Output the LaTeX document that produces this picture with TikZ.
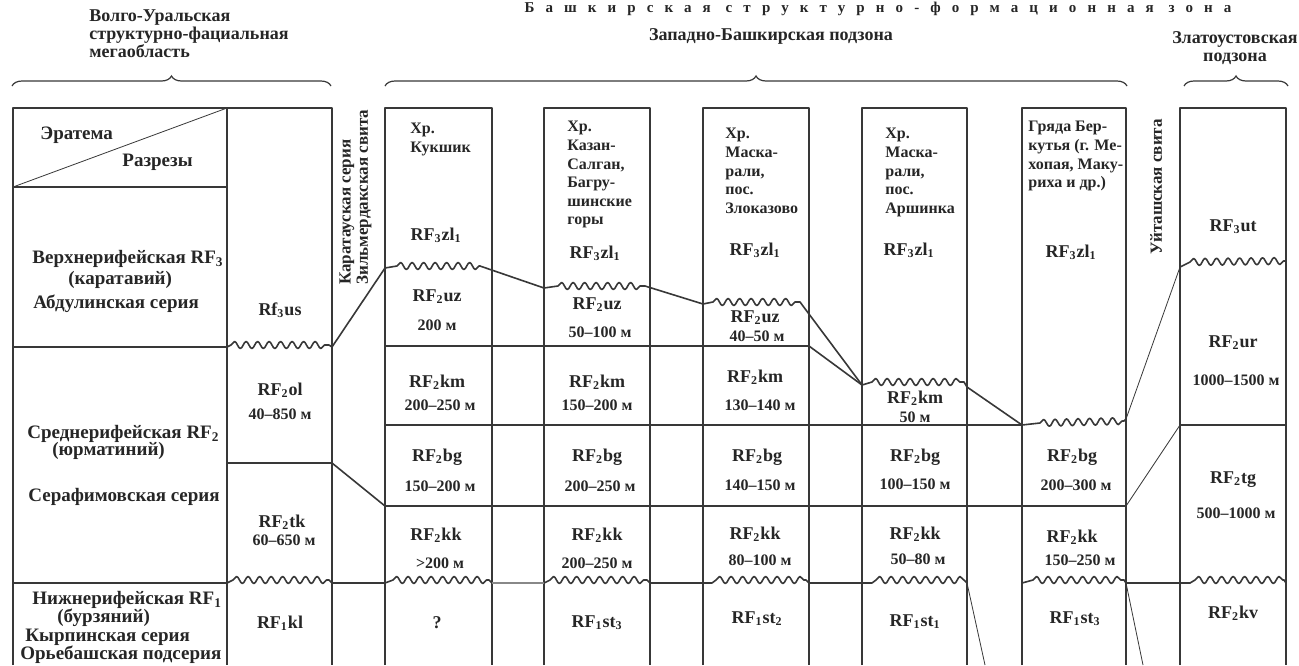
\documentclass[tikz,border=0pt]{standalone}
\usepackage{fontspec}
\setmainfont{Liberation Serif}
\newfontfamily\ttlfont[LetterSpace=74]{Liberation Serif}
\usetikzlibrary{decorations.pathmorphing,decorations.pathreplacing}
\definecolor{lc}{gray}{0.22}
\definecolor{tc}{gray}{0.15}
\newcommand\lsb[1]{\textsubscript{#1}}
\begin{document}
\begin{tikzpicture}[x=0.5pt,y=-0.5pt,
 bline/.style={draw=lc,line width=0.8pt,line join=round},
 tline/.style={draw=lc,line width=0.4pt},
 gline/.style={draw=lc!60,line width=0.6pt},
 wv/.style={decoration={snake,segment length=5.75pt,amplitude=1.75pt}},
 brc/.style={draw=lc,line width=0.6pt,decorate,decoration={brace,amplitude=5pt}},
 cellt/.style={font=\fontsize{9}{10}\selectfont\bfseries,text=tc,inner sep=0pt},
 thk/.style={font=\fontsize{8}{9}\selectfont\bfseries,text=tc,inner sep=0pt},
 loct/.style={font=\fontsize{8}{9.3}\selectfont\bfseries,text=tc,align=left,anchor=north west,inner sep=0pt},
 labt/.style={font=\fontsize{9.5}{11}\selectfont\bfseries,text=tc,anchor=west,inner sep=0pt},
 hdt/.style={font=\fontsize{9}{9}\selectfont\bfseries,text=tc,inner sep=0pt},
 vtxt/.style={font=\fontsize{8.5}{9}\selectfont\bfseries,text=tc,rotate=90,anchor=west,inner sep=0pt},
 ttl/.style={font=\ttlfont\fontsize{7.5}{8}\selectfont\bfseries,text=tc,inner sep=0pt}
]
\useasboundingbox[fill=white] (0,0) rectangle (1299,665);

% ---------- headers ----------
\node[ttl] (title) at (878,9) {Башкирская структурно-формационная зона};
\node[hdt,align=left,anchor=north west] (hVU) at (89,9) {Волго-Уральская\\структурно-фациальная\\мегаобласть};
\node[hdt] (hZB) at (771,36) {Западно-Башкирская подзона};
\node[hdt,align=center] (hZl) at (1235,48) {Златоустовская\\подзона};
\draw[brc] (12,86) -- (331,86);
\draw[brc] (385,86) -- (1127,86);
\draw[brc] (1184,86) -- (1288,86);

% ---------- grid: columns ----------
\draw[bline] (13,665) -- (13,108) -- (332,108) -- (332,665);
\draw[bline] (227,108) -- (227,665);
\foreach \xa/\xb in {385/492,544/650,703/809,862/967,1022/1126,1180/1286}
  \draw[bline] (\xa,665) -- (\xa,108) -- (\xb,108) -- (\xb,665);

% left table rows
\coordinate (e1) at (13,187);
\coordinate (e2) at (227,108);
\draw[bline] (e1) -- (227,187);
\draw[tline] (e1) -- (e2);
\draw[bline] (13,347) -- (227,347) -- (231,345) decorate[wv]{-- (329,345)} -- (332,347);
\draw[bline] (227,463) -- (332,463);

% ---------- boundaries ----------
\coordinate (k1) at (332,347);
\coordinate (k2) at (385,268);
\coordinate (k3) at (862,385);
\draw[bline] (k1) -- (k2) -- (397,266) decorate[wv]{-- (480,266)} -- (544,288) -- (558,286)
   decorate[wv]{-- (645,286)} -- (703,304) -- (713,302) decorate[wv]{-- (800,302)} -- (k3);
\draw[bline] (385,346) -- (809,346) -- (k3);
\coordinate (k4) at (1022,425);
\draw[bline] (k3) -- (872,382) decorate[wv]{-- (964,382)} -- (967,387) -- (k4);
\draw[bline] (385,425) -- (k4) -- (1040,423) decorate[wv]{-- (1124,421)} -- (1126,419);
\coordinate (k5) at (1126,419);
\coordinate (k6) at (1180,267);
\draw[tline] (k5) -- (k6);
\draw[bline] (k6) -- (1190,262) decorate[wv]{-- (1286,261)};
\coordinate (m1) at (332,463);
\coordinate (m2) at (385,506);
\coordinate (m3) at (1126,506);
\coordinate (m4) at (1180,425);
\draw[bline] (m1) -- (m2) -- (m3);
\draw[tline] (m3) -- (m4);
\draw[bline] (m4) -- (1286,425);

% bottom boundary
\draw[bline] (13,583) -- (227,583) -- (233,580) decorate[wv]{-- (329,580)} -- (332,583) -- (385,583) -- (393,580)
   decorate[wv]{-- (489,580)} -- (492,583);
\draw[gline] (492,583) -- (544,583);
\draw[bline] (544,583) -- (550,580) decorate[wv]{-- (647,580)} -- (650,583) -- (712,583) -- (716,580)
   decorate[wv]{-- (806,580)} -- (809,583) -- (872,583) -- (876,580) decorate[wv]{-- (964,580)} -- (967,583);
\draw[bline] (1022,583) -- (1033,580) decorate[wv]{-- (1124,580)} -- (1126,583) -- (1190,583) -- (1195,580)
   decorate[wv]{-- (1284,580)} -- (1286,583);
\coordinate (b1) at (967,583);
\coordinate (b2) at (985,665);
\coordinate (b3) at (1126,583);
\coordinate (b4) at (1143,665);
\draw[tline] (b1) -- (b2);
\draw[tline] (b3) -- (b4);

% ---------- vertical texts ----------
\node[vtxt] (vk) at (347,285) {Каратауская серия};
\node[vtxt] (vz) at (364,285) {Зильмердакская свита};
\node[vtxt] (vu) at (1156,255) {Уйташская свита};

% ---------- left column labels ----------
\node[labt] (l0a) at (40,135) {Эратема};
\node[labt] (l0b) at (122,162) {Разрезы};
\node[labt] (l1a) at (32,259) {Верхнерифейская RF\lsb{3}};
\node[labt] (l1b) at (68,280) {(каратавий)};
\node[labt] (l1c) at (33,304) {Абдулинская серия};
\node[labt] (l2a) at (27,434) {Среднерифейская RF\lsb{2}};
\node[labt] (l2b) at (52,451) {(юрматиний)};
\node[labt] (l2c) at (28,497) {Серафимовская серия};
\node[labt] (l3a) at (32,600) {Нижнерифейская RF\lsb{1}};
\node[labt] (l3b) at (57,618) {(бурзяний)};
\node[labt] (l3c) at (25,637) {Кырпинская серия};
\node[labt] (l3d) at (20,655) {Орьебашская подсерия};

% ---------- column 2 ----------
\node[cellt] (c2a) at (280,310) {Rf\lsb{3}us};
\node[cellt] (c2b) at (280,390) {RF\lsb{2}ol};
\node[thk] (c2bt) at (280,414) {40–850 м};
\node[cellt] (c2c) at (282,522) {RF\lsb{2}tk};
\node[thk] (c2ct) at (284,540) {60–650 м};
\node[cellt] (c2d) at (280,623) {RF\lsb{1}kl};

% ---------- column 3 ----------
\node[loct] (h3) at (410,123) {Хр.\\Кукшик};
\node[cellt] (c3a) at (436,235) {RF\lsb{3}zl\lsb{1}};
\node[cellt] (c3b) at (437,297) {RF\lsb{2}uz};
\node[thk] (c3bt) at (437,325) {200 м};
\node[cellt] (c3c) at (437,382) {RF\lsb{2}km};
\node[thk] (c3ct) at (440,405) {200–250 м};
\node[cellt] (c3d) at (437,457) {RF\lsb{2}bg};
\node[thk] (c3dt) at (440,486) {150–200 м};
\node[cellt] (c3e) at (436,535) {RF\lsb{2}kk};
\node[thk] (c3et) at (440,563) {>200 м};
\node[cellt] (c3f) at (437,623) {?};

% ---------- column 4 ----------
\node[loct] (h4) at (567,121) {Хр.\\Казан-\\Салган,\\Багру-\\шинские\\горы};
\node[cellt] (c4a) at (595,253) {RF\lsb{3}zl\lsb{1}};
\node[cellt] (c4b) at (597,305) {RF\lsb{2}uz};
\node[thk] (c4bt) at (600,332) {50–100 м};
\node[cellt] (c4c) at (597,382) {RF\lsb{2}km};
\node[thk] (c4ct) at (597,405) {150–200 м};
\node[cellt] (c4d) at (597,457) {RF\lsb{2}bg};
\node[thk] (c4dt) at (600,486) {200–250 м};
\node[cellt] (c4e) at (597,535) {RF\lsb{2}kk};
\node[thk] (c4et) at (597,563) {200–250 м};
\node[cellt] (c4f) at (597,623) {RF\lsb{1}st\lsb{3}};

% ---------- column 5 ----------
\node[loct] (h5) at (725,128) {Хр.\\Маска-\\рали,\\пос.\\Злоказово};
\node[cellt] (c5a) at (755,250) {RF\lsb{3}zl\lsb{1}};
\node[cellt] (c5b) at (755,318) {RF\lsb{2}uz};
\node[thk] (c5bt) at (757,336) {40–50 м};
\node[cellt] (c5c) at (755,377) {RF\lsb{2}km};
\node[thk] (c5ct) at (760,405) {130–140 м};
\node[cellt] (c5d) at (757,457) {RF\lsb{2}bg};
\node[thk] (c5dt) at (760,485) {140–150 м};
\node[cellt] (c5e) at (755,534) {RF\lsb{2}kk};
\node[thk] (c5et) at (760,560) {80–100 м};
\node[cellt] (c5f) at (757,619) {RF\lsb{1}st\lsb{2}};

% ---------- column 6 ----------
\node[loct] (h6) at (885,128) {Хр.\\Маска-\\рали,\\пос.\\Аршинка};
\node[cellt] (c6a) at (909,250) {RF\lsb{3}zl\lsb{1}};
\node[cellt] (c6b) at (915,398) {RF\lsb{2}km};
\node[thk] (c6bt) at (915,417) {50 м};
\node[cellt] (c6c) at (915,457) {RF\lsb{2}bg};
\node[thk] (c6ct) at (915,484) {100–150 м};
\node[cellt] (c6d) at (915,534) {RF\lsb{2}kk};
\node[thk] (c6dt) at (918,559) {50–80 м};
\node[cellt] (c6e) at (915,622) {RF\lsb{1}st\lsb{1}};

% ---------- column 7 ----------
\node[loct] (h7) at (1028,121) {Гряда Бер-\\кутья (г. Ме-\\хопая, Маку-\\риха и др.)};
\node[cellt] (c7a) at (1071,252) {RF\lsb{3}zl\lsb{1}};
\node[cellt] (c7b) at (1072,457) {RF\lsb{2}bg};
\node[thk] (c7bt) at (1076,485) {200–300 м};
\node[cellt] (c7c) at (1072,537) {RF\lsb{2}kk};
\node[thk] (c7ct) at (1080,560) {150–250 м};
\node[cellt] (c7d) at (1075,619) {RF\lsb{1}st\lsb{3}};

% ---------- column 8 ----------
\node[cellt] (c8a) at (1233,227) {RF\lsb{3}ut};
\node[cellt] (c8b) at (1233,343) {RF\lsb{2}ur};
\node[thk] (c8bt) at (1236,380) {1000–1500 м};
\node[cellt] (c8c) at (1233,480) {RF\lsb{2}tg};
\node[thk] (c8ct) at (1236,513) {500–1000 м};
\node[cellt] (c8d) at (1233,613) {RF\lsb{2}kv};
\end{tikzpicture}
\end{document}
